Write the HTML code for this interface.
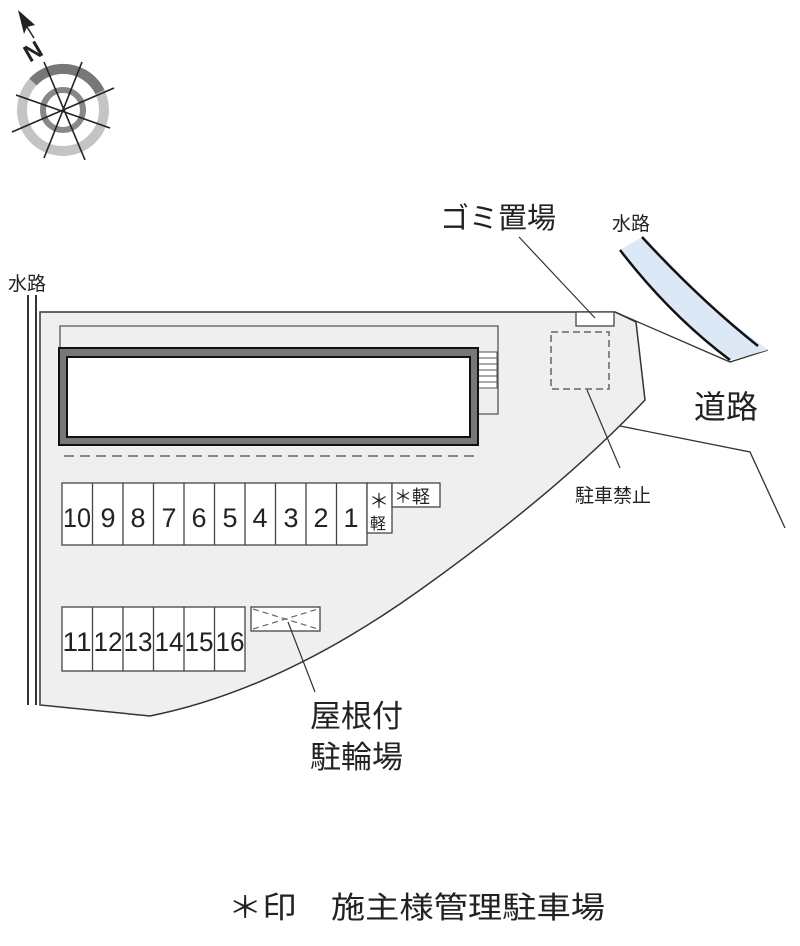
<!DOCTYPE html>
<html><head><meta charset="utf-8"><style>
body{margin:0;background:#fff}
svg text{font-family:"Liberation Sans","Noto Sans CJK JP",sans-serif;fill:#222}
</style></head><body>
<svg width="800" height="941" viewBox="0 0 800 941" xmlns="http://www.w3.org/2000/svg">
<!-- compass -->
<g>
<circle cx="63" cy="110" r="41" fill="none" stroke="#c4c4c4" stroke-width="10"/>
<path d="M33 82 A41 41 0 0 1 100 92" fill="none" stroke="#777" stroke-width="10"/>
<circle cx="63" cy="110" r="20" fill="none" stroke="#888" stroke-width="6"/>
<g stroke="#222" stroke-width="1.6">
<line x1="44" y1="62" x2="85" y2="160"/>
<line x1="82" y1="62" x2="44" y2="158"/>
<line x1="16" y1="95" x2="110" y2="128"/>
<line x1="12" y1="132" x2="114" y2="88"/>
</g>
<polygon points="18,10 35,25 27,27 24,34" fill="#222"/>
<line x1="27" y1="27" x2="34" y2="38" stroke="#222" stroke-width="1.5"/>
<text x="24" y="58" font-size="24" font-weight="bold" transform="rotate(-30 36 50)">N</text>
</g>
<!-- water left -->
<line x1="28" y1="295" x2="28" y2="705" stroke="#333" stroke-width="2"/>
<line x1="36" y1="295" x2="36" y2="705" stroke="#333" stroke-width="2"/>
<text x="8" y="290" font-size="19">水路</text>
<!-- lot -->
<path d="M40 312 L615 312 L636 322 L645 400 Q560 490 420 590 Q280 690 150 716 L40 705 Z" fill="#efefef" stroke="#333" stroke-width="1.5"/>
<line x1="40" y1="312" x2="40" y2="705" stroke="#555" stroke-width="1.5"/>
<!-- roads -->
<polyline points="615,312 730,362 768,350" fill="none" stroke="#333" stroke-width="1.3"/>
<polyline points="620,426 750,452 785,528" fill="none" stroke="#333" stroke-width="1.3"/>
<path d="M620 250 Q670 315 730 360 L768 350 Q700 300 642 237 Z" fill="#dde8f7"/>
<path d="M620 250 Q670 315 730 360" fill="none" stroke="#111" stroke-width="2.5"/>
<path d="M642 237 Q700 300 758 346" fill="none" stroke="#111" stroke-width="2.5"/>
<!-- walkway -->
<polyline points="60,347 60,326 498,326 498,414 478,414" fill="none" stroke="#555" stroke-width="1.3"/>
<!-- stairs -->
<g stroke="#555" stroke-width="1">
<rect x="478" y="352" width="19" height="36" fill="#fff"/>
<line x1="478" y1="358" x2="497" y2="358"/><line x1="478" y1="364" x2="497" y2="364"/>
<line x1="478" y1="370" x2="497" y2="370"/><line x1="478" y1="376" x2="497" y2="376"/>
<line x1="478" y1="382" x2="497" y2="382"/>
</g>
<!-- building -->
<rect x="59" y="348" width="419" height="97" fill="#777" stroke="#111" stroke-width="2"/>
<rect x="67" y="357" width="403" height="80" fill="#fff" stroke="#111" stroke-width="2"/>
<line x1="64" y1="456" x2="476" y2="456" stroke="#888" stroke-width="2" stroke-dasharray="10,6"/>
<!-- spaces -->
<g fill="#fff" stroke="#444" stroke-width="1.3">
<rect x="62" y="483" width="305" height="62"/>
<rect x="367" y="483" width="25" height="50"/>
<rect x="392" y="483" width="48" height="24"/>
<rect x="62" y="607" width="183" height="64"/>
<rect x="251" y="607" width="69" height="24"/>
</g>
<g stroke="#444" stroke-width="1.3">
<line x1="92.5" y1="483" x2="92.5" y2="545"/><line x1="123" y1="483" x2="123" y2="545"/>
<line x1="153.5" y1="483" x2="153.5" y2="545"/><line x1="184" y1="483" x2="184" y2="545"/>
<line x1="214.5" y1="483" x2="214.5" y2="545"/><line x1="245" y1="483" x2="245" y2="545"/>
<line x1="275.5" y1="483" x2="275.5" y2="545"/><line x1="306" y1="483" x2="306" y2="545"/>
<line x1="336.5" y1="483" x2="336.5" y2="545"/>
<line x1="92.5" y1="607" x2="92.5" y2="671"/><line x1="123" y1="607" x2="123" y2="671"/>
<line x1="153.5" y1="607" x2="153.5" y2="671"/><line x1="184" y1="607" x2="184" y2="671"/>
<line x1="214.5" y1="607" x2="214.5" y2="671"/>
</g>
<g stroke="#666" stroke-width="1.2" stroke-dasharray="6,4">
<line x1="253" y1="609" x2="318" y2="629"/><line x1="253" y1="629" x2="318" y2="609"/>
</g>
<g font-size="27" text-anchor="middle">
<text x="77" y="527" textLength="28" lengthAdjust="spacingAndGlyphs">10</text>
<text x="108" y="527">9</text><text x="138" y="527">8</text><text x="169" y="527">7</text>
<text x="199" y="527">6</text><text x="230" y="527">5</text><text x="260" y="527">4</text>
<text x="291" y="527">3</text><text x="321" y="527">2</text><text x="351" y="527">1</text>
</g>
<g font-size="27" text-anchor="middle">
<text x="77" y="651" textLength="29" lengthAdjust="spacingAndGlyphs">11</text>
<text x="108" y="651" textLength="29" lengthAdjust="spacingAndGlyphs">12</text>
<text x="138" y="651" textLength="29" lengthAdjust="spacingAndGlyphs">13</text>
<text x="169" y="651" textLength="29" lengthAdjust="spacingAndGlyphs">14</text>
<text x="199" y="651" textLength="29" lengthAdjust="spacingAndGlyphs">15</text>
<text x="230" y="651" textLength="29" lengthAdjust="spacingAndGlyphs">16</text>
</g>
<text x="369" y="508" font-size="20">＊</text>
<text x="370" y="529" font-size="16">軽</text>
<text x="394" y="503" font-size="18">＊軽</text>
<!-- gomi & no parking -->
<rect x="576" y="312" width="38" height="14" fill="#fff" stroke="#444" stroke-width="1.3"/>
<rect x="551" y="332" width="58" height="57" fill="none" stroke="#666" stroke-width="1.5" stroke-dasharray="7,4"/>
<g stroke="#333" stroke-width="1.2">
<line x1="519" y1="237" x2="595" y2="318"/>
<line x1="587" y1="390" x2="620" y2="468"/>
<line x1="288" y1="622" x2="315" y2="692"/>
</g>
<text x="440" y="228" font-size="29">ゴミ置場</text>
<text x="612" y="230" font-size="19">水路</text>
<text x="694" y="418" font-size="32">道路</text>
<text x="575" y="502" font-size="19">駐車禁止</text>
<text x="310" y="727" font-size="31">屋根付</text>
<text x="310" y="768" font-size="31">駐輪場</text>
<text x="228" y="918" font-size="30" textLength="377" lengthAdjust="spacingAndGlyphs">＊印　施主様管理駐車場</text>
</svg>
</body></html>
